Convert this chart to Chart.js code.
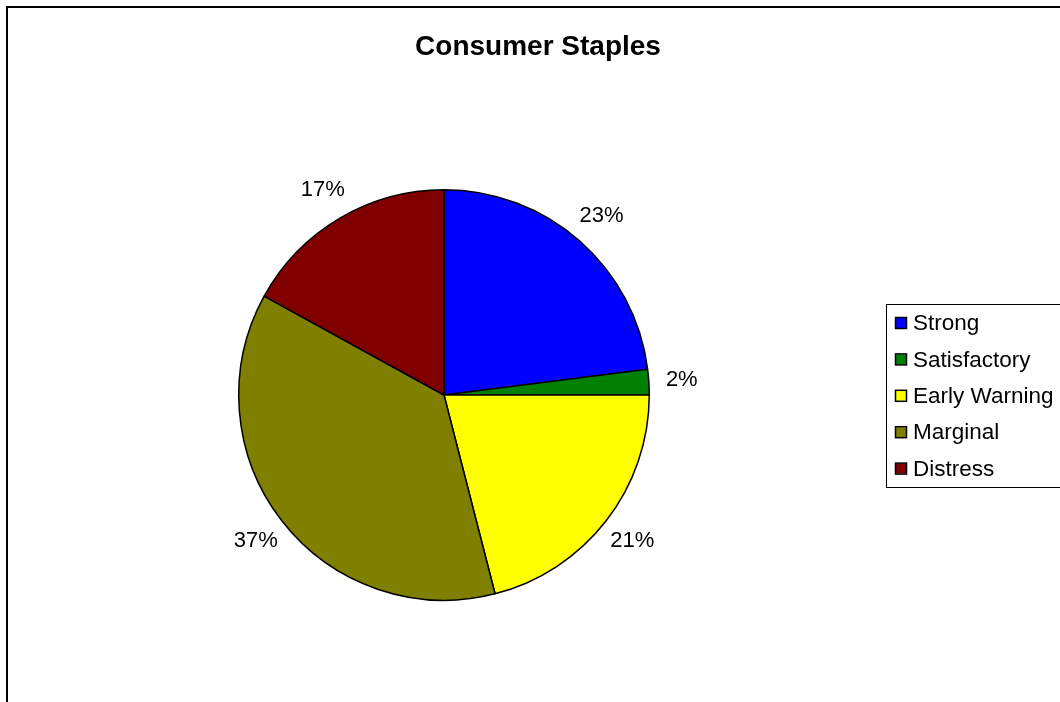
<!DOCTYPE html>
<html>
<head>
<meta charset="utf-8">
<title>Consumer Staples</title>
<script src="https://cdn.jsdelivr.net/npm/chart.js@4/dist/chart.umd.min.js"></script>
<style>
  html, body { margin: 0; padding: 0; background: #fff; overflow: hidden; }
  #wrap { width: 1060px; height: 702px; position: relative; }
</style>
</head>
<body>
<div id="wrap"><canvas id="pie" width="1060" height="702"></canvas></div>
<script>
const title = 'Consumer Staples';
const categories = ['Strong', 'Satisfactory', 'Early Warning', 'Marginal', 'Distress'];
const shares = [23, 2, 21, 37, 17];
const sliceColors = ['#0000ff', '#008000', '#ffff00', '#808000', '#800000'];

const FONT = '"Liberation Sans", Arial, sans-serif';

// outer frame, title, percent labels and the boxed legend
const decorations = {
    id: 'decorations',
    afterDraw(chart) {
        const ctx = chart.ctx;
        ctx.save();

        ctx.strokeStyle = '#000';
        ctx.lineWidth = 2;
        ctx.strokeRect(7, 7, 1200, 900);

        ctx.fillStyle = '#000';
        ctx.font = 'bold 28px ' + FONT;
        ctx.textAlign = 'center';
        ctx.textBaseline = 'middle';
        ctx.fillText(title, 538, 47);

        // percent labels just outside each slice
        const arcs = chart.getDatasetMeta(0).data;
        const total = shares.reduce((a, b) => a + b, 0);
        ctx.font = '22px ' + FONT;
        arcs.forEach((arc, i) => {
            const mid = (arc.startAngle + arc.endAngle) / 2;
            const r = arc.outerRadius + 33;
            const x = arc.x + Math.cos(mid) * r;
            const y = arc.y + Math.sin(mid) * r;
            ctx.fillText(Math.round(shares[i] / total * 100) + '%', x, y);
        });

        // legend
        ctx.lineWidth = 1;
        ctx.strokeStyle = '#000';
        ctx.strokeRect(886.5, 304.5, 300, 183);
        ctx.textAlign = 'left';
        ctx.font = '22.5px ' + FONT;
        categories.forEach((name, i) => {
            const cy = 323 + i * 36.4;
            ctx.fillStyle = sliceColors[i];
            ctx.fillRect(896, cy - 5, 10, 10);
            ctx.lineWidth = 1.5;
            ctx.strokeRect(895.5, cy - 5.5, 11, 11);
            ctx.fillStyle = '#000';
            ctx.fillText(name, 913, cy + 1);
        });

        ctx.restore();
    }
};

new Chart(document.getElementById('pie'), {
    type: 'pie',
    data: {
        labels: categories,
        datasets: [{
            data: shares,
            backgroundColor: sliceColors,
            borderColor: '#000',
            borderWidth: 1.5
        }]
    },
    options: {
        responsive: false,
        animation: false,
        layout: { padding: { left: 238, right: 410, top: 189, bottom: 101 } },
        plugins: {
            legend: { display: false },
            tooltip: { enabled: false },
            title: { display: false }
        }
    },
    plugins: [decorations]
});
</script>
</body>
</html>
